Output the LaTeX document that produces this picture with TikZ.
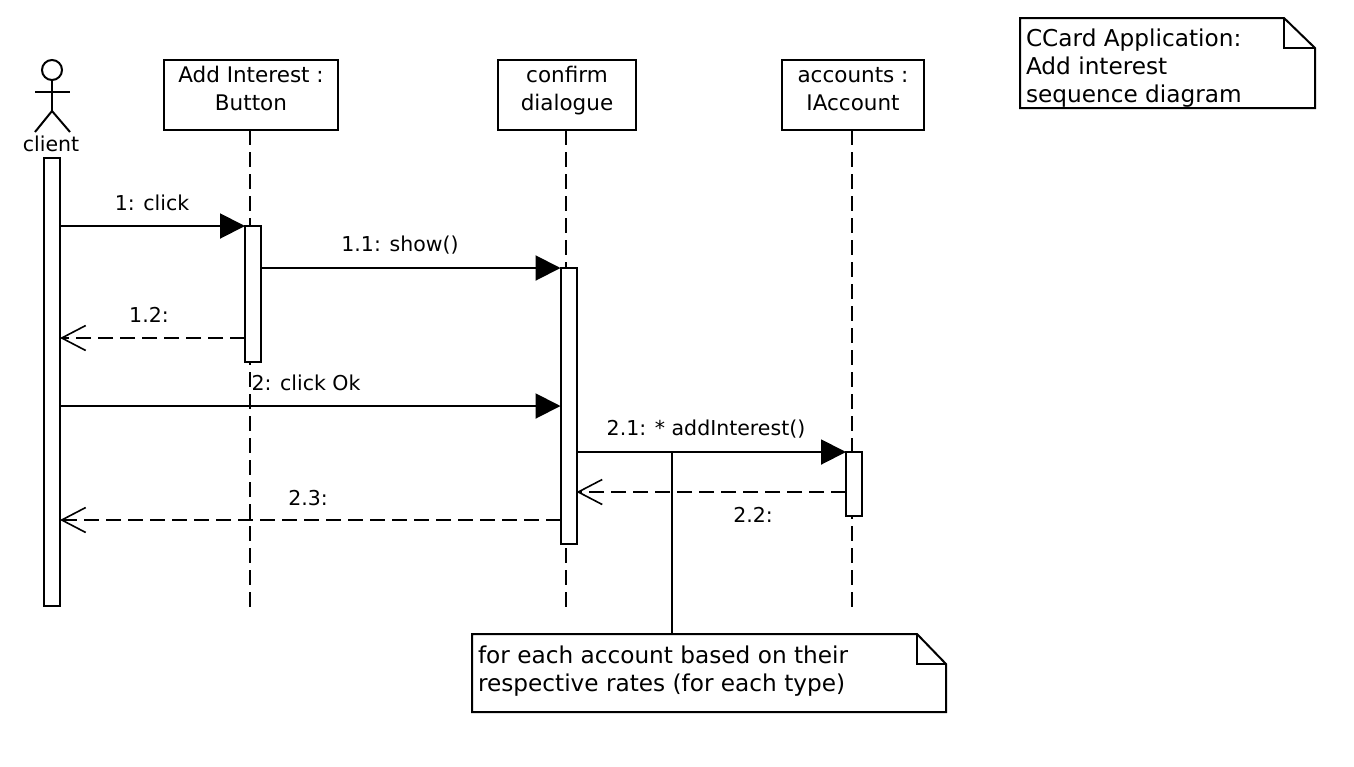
\documentclass[tikz,border=0pt]{standalone}
\usepackage{fontspec}
\setmainfont{DejaVu Sans}
\usetikzlibrary{arrows.meta}
\tikzset{
  every node/.style={font=\fontsize{20.5}{28}\selectfont, inner sep=0pt, outer sep=0pt},
  ln/.style={line width=2pt, black},
  objbox/.style={ln, draw, fill=white, align=center, minimum height=70pt, font=\fontsize{21.5}{28}\selectfont},
  bar/.style={ln, draw, fill=white, minimum width=16pt},
  lifeline/.style={line width=2pt, dash pattern=on 15pt off 7pt},
  sync/.style={ln, -{Triangle[length=25pt,width=25pt]}},
  reply/.style={ln, dash pattern=on 15pt off 7pt, -{Straight Barb[length=24pt,width=25pt,line width=1.6pt]}},
  notetext/.style={align=left, anchor=west, font=\fontsize{23.2}{28}\selectfont},
  msg/.style={}
}
\begin{document}
\begin{tikzpicture}[x=1pt,y=-1pt]
\useasboundingbox (0,0) rectangle (1354,766);
% objects
\node[objbox, minimum width=174pt] (btn) at (251,95) {\begin{tabular}{@{}c@{}}Add Interest :\\[0pt]Button\\[8pt]\end{tabular}};
\node[objbox, minimum width=138pt] (dlg) at (567,95) {\begin{tabular}{@{}c@{}}confirm\\[0pt]dialogue\\[8pt]\end{tabular}};
\node[objbox, minimum width=142pt] (acc) at (853,95) {\begin{tabular}{@{}c@{}}accounts :\\[0pt]IAccount\\[8pt]\end{tabular}};
% lifeline ends
\coordinate (btnEnd) at (250,608);
\coordinate (dlgEnd) at (566,608);
\coordinate (accEnd) at (852,608);
\draw[lifeline] (btnEnd |- btn.south) -- (btnEnd);
\draw[lifeline] (dlgEnd |- dlg.south) -- (dlgEnd);
\draw[lifeline] (accEnd |- acc.south) -- (accEnd);
% actor
\node[ln, draw, circle, minimum size=20pt] (head) at (52,70) {};
\coordinate (hip) at (52,111);
\draw[ln] (head.south) -- (hip);
\draw[ln] (35,92) -- (70,92);
\draw[ln] (35,132) -- (hip) -- (70,132);
\node (client) at (51,144) {client};
% activation bars
\node[bar, minimum height=448pt, anchor=north] (barC) at (52,158) {};
\node[bar, minimum height=136pt, anchor=north] (barB) at (253,226) {};
\node[bar, minimum height=276pt, anchor=north] (barD) at (568.5,268) {};
\node[bar, minimum height=64pt, anchor=north] (barA) at (854,452) {};
% note link
\coordinate (noteTop) at (672,452);
% notes
\node[minimum width=474pt, minimum height=78pt, anchor=north west] (noteB) at (472,634) {};
\node[minimum width=295pt, minimum height=90pt, anchor=north west] (noteT) at (1020,18) {};
\draw[ln] (noteTop) -- (noteTop |- noteB.north);
\draw[ln, line join=miter, fill=white] (noteB.north west) -- ++(445,0) -- ++(29,30) -- (noteB.south east) -- (noteB.south west) -- cycle;
\draw[ln] (917,634) -- (917,664) -- (946,664);
\draw[ln, line join=miter, fill=white] (noteT.north west) -- ++(264,0) -- ++(31,30) -- (noteT.south east) -- (noteT.south west) -- cycle;
\draw[ln] (1284,18) -- (1284,48) -- (1315,48);
\node[notetext] (noteBt) at (478,671) {for each account based on their\\respective rates (for each type)};
\node[notetext] (noteTt) at (1026,68) {CCard Application:\\Add interest\\sequence diagram};
% messages
\coordinate (m12) at (barB.west |- 0,338);
\coordinate (m2) at (barC.east |- 0,406);
\coordinate (m22) at (barA.west |- 0,492);
\coordinate (m23) at (barD.west |- 0,520);
\draw[sync] (barC.east |- barB.north) -- (barB.north west);
\draw[sync] (barB.east |- barD.north) -- (barD.north west);
\draw[reply] (m12) -- (barC.east |- m12);
\draw[sync] (m2) -- (barD.west |- m2);
\draw[sync] (barD.east |- barA.north) -- (barA.north west);
\draw[reply] (m22) -- (barD.east |- m22);
\draw[reply] (m23) -- (barC.east |- m23);
% labels
\node[msg] (l1) at (152,203) {1: click};
\node[msg] (l11) at (400,245) {1.1: show()};
\node[msg] (l12) at (149,315) {1.2:};
\node[msg] (l2) at (306,383) {2: click Ok};
\node[msg] (l21) at (706,429) {2.1: * addInterest()};
\node[msg] (l22) at (753,515) {2.2:};
\node[msg] (l23) at (308,498) {2.3:};
\end{tikzpicture}
\end{document}
